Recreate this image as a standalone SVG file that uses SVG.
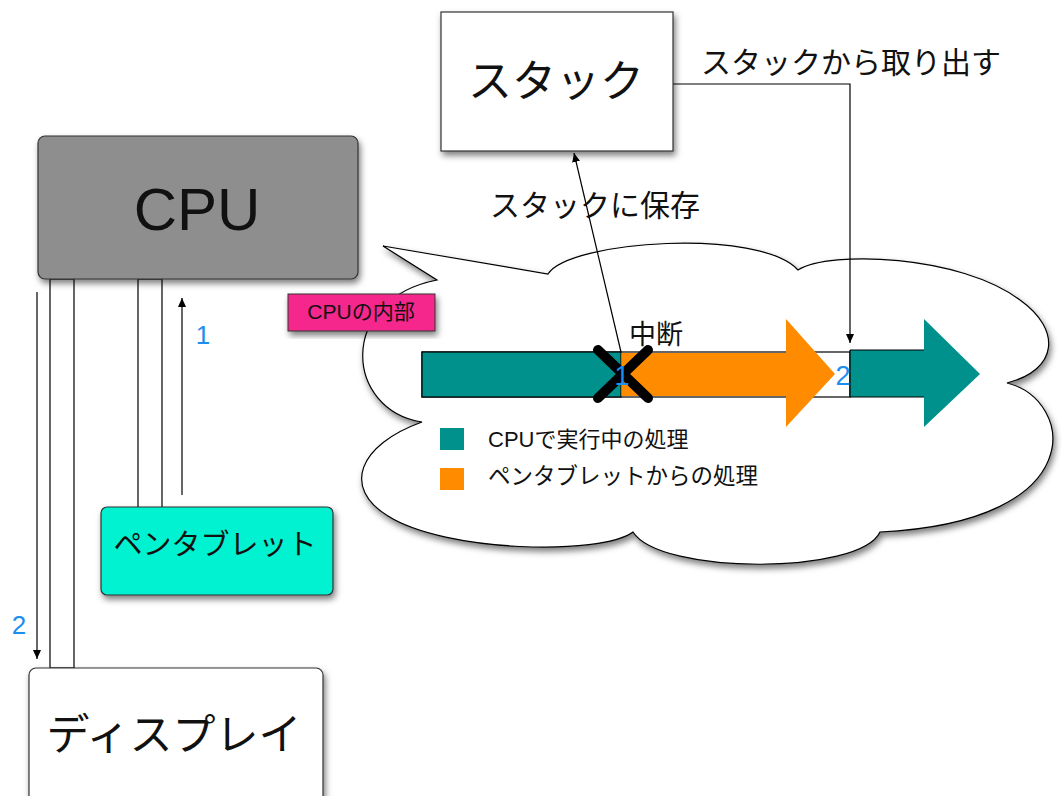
<svg xmlns="http://www.w3.org/2000/svg" width="1064" height="796" viewBox="0 0 1064 796">
  <defs>
    <filter id="sh" x="-10%" y="-10%" width="125%" height="130%">
      <feDropShadow dx="2" dy="4" stdDeviation="3" flood-color="#000" flood-opacity="0.5"/>
    </filter>
    <marker id="ah" markerWidth="10" markerHeight="10" refX="9" refY="5" orient="auto" markerUnits="userSpaceOnUse">
      <path d="M0,1 L9,5 L0,9 Z" fill="#000"/>
    </marker>
  </defs>
  <style>
    .jp { font-family: "Noto Sans CJK JP", "Liberation Sans", sans-serif; fill: #111; }
    .lat { font-family: "Liberation Sans", "Noto Sans CJK JP", sans-serif; fill: #111; }
    .num { font-family: "Liberation Sans", sans-serif; fill: #1a8ff0; }
    .ln { stroke: #000; stroke-width: 1.2; fill: none; }
    .bus { fill: #fff; stroke: #000; stroke-width: 1.2; }
  </style>
  <rect width="1064" height="796" fill="#fff"/>

  <!-- cloud (CPU internals) -->
  <g id="cloud">
    <path filter="url(#sh)" fill="#fff" stroke="#000" stroke-width="1.2" d="M548,274 C570,240 760,228 798,270 C830,250 960,255 1020,300 C1062,330 1058,370 1007,383 C1075,400 1092,522 880,532 C860,575 660,575 633,532 C600,556 445,552 388,516 C342,488 358,445 422,422 C345,410 336,300 437,280 L383,246 Z"/>
  </g>

  <!-- bars inside cloud -->
  <g id="timeline">
    <rect x="422" y="352" width="428" height="45" fill="#fff" stroke="#000" stroke-width="1.2"/>
    <rect x="422" y="352" width="199" height="45" fill="#00918c" stroke="#000" stroke-width="1.2"/>
    <path d="M621.6,353 H786 V319 L835,374 L786,427 V396 H621.6 Z" fill="#ff8c00"/>
    <path d="M850,350 H924 V319 L980,374 L924,427 V397 H850 Z" fill="#00918c"/>
    <line x1="850" y1="350" x2="850" y2="397" stroke="#000" stroke-width="1.2"/>
    <line x1="850" y1="350" x2="924" y2="350" stroke="#000" stroke-width="1"/>
    <line x1="850" y1="397" x2="924" y2="397" stroke="#000" stroke-width="1"/>
    <g stroke="#000" stroke-width="10" stroke-linecap="round">
      <line x1="598" y1="350" x2="648" y2="398"/>
      <line x1="648" y1="350" x2="598" y2="398"/>
    </g>
    <text class="num" x="622" y="385" font-size="27" text-anchor="middle">1</text>
    <text class="num" x="843" y="385" font-size="27" text-anchor="middle">2</text>
    <text class="jp" x="629" y="344" font-size="27">中断</text>
  </g>

  <g id="legend">
    <rect x="440" y="428" width="24" height="22" fill="#00918c"/>
    <text class="lat" x="488" y="447" font-size="22">CPUで実行中の処理</text>
    <rect x="440" y="468" width="24" height="22" fill="#ff8c00"/>
    <text class="jp" x="488" y="484" font-size="22.5">ペンタブレットからの処理</text>
  </g>

  <!-- connectors -->
  <g id="connectors">
    <rect class="bus" x="50" y="279" width="24" height="389"/>
    <rect class="bus" x="138" y="279" width="24" height="229"/>
    <line class="ln" x1="182" y1="495" x2="182" y2="298" marker-end="url(#ah)"/>
    <line class="ln" x1="37" y1="292" x2="37" y2="659" marker-end="url(#ah)"/>
    <line class="ln" x1="621" y1="352" x2="574" y2="153" marker-end="url(#ah)"/>
    <path class="ln" d="M673,84 H850 V343" marker-end="url(#ah)"/>
    <text class="num" x="203" y="344" font-size="26" text-anchor="middle">1</text>
    <text class="num" x="19" y="634" font-size="26" text-anchor="middle">2</text>
    <text class="jp" x="701" y="73" font-size="30">スタックから取り出す</text>
    <text class="jp" x="490" y="216" font-size="30">スタックに保存</text>
  </g>

  <g id="cpu">
    <rect x="38" y="136" width="320" height="143" rx="7" fill="#8e8e8e" stroke="#333" stroke-width="1.2" filter="url(#sh)"/>
    <text class="lat" x="197" y="230" font-size="60" text-anchor="middle">CPU</text>
  </g>

  <g id="cpu-label">
    <rect x="288" y="294" width="147" height="37" fill="#f5288c" stroke="#333" stroke-width="1" filter="url(#sh)"/>
    <text class="lat" x="361" y="319" font-size="21" text-anchor="middle">CPUの内部</text>
  </g>

  <g id="stack">
    <rect x="441" y="12" width="232" height="139" fill="#fff" stroke="#333" stroke-width="1.2" filter="url(#sh)"/>
    <text class="jp" x="556" y="97" font-size="44" text-anchor="middle">スタック</text>
  </g>

  <g id="pentablet">
    <rect x="101" y="507" width="232" height="88" rx="6" fill="#00f2d0" stroke="#333" stroke-width="1.2" filter="url(#sh)"/>
    <text class="jp" x="215" y="555" font-size="29" text-anchor="middle">ペンタブレット</text>
  </g>

  <g id="display">
    <rect x="29" y="668" width="294" height="140" rx="7" fill="#fff" stroke="#333" stroke-width="1.2" filter="url(#sh)"/>
    <text class="jp" x="174" y="750" font-size="43" text-anchor="middle">ディスプレイ</text>
  </g>
</svg>
